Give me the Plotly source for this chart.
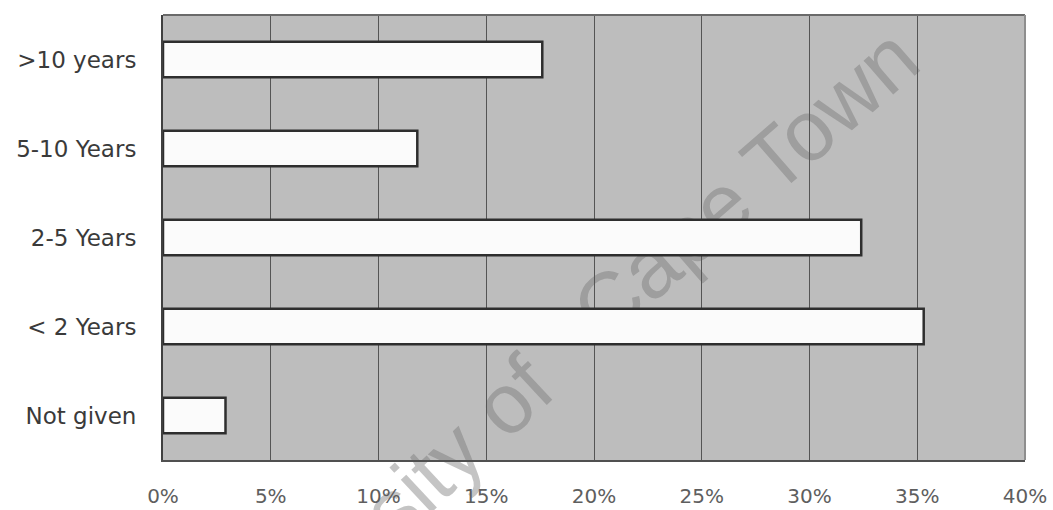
import plotly.graph_objects as go

# Length of service, share of respondents (%)
categories = [">10 years", "5-10 Years", "2-5 Years", "< 2 Years", "Not given"]
shares = [17.6, 11.8, 32.4, 35.3, 2.9]
tick_values = [0, 5, 10, 15, 20, 25, 30, 35, 40]
tick_labels = ["0%", "5%", "10%", "15%", "20%", "25%", "30%", "35%", "40%"]

W, H = 1053, 510
M_L, M_R, M_T, M_B = 163, 28, 15, 50
plot_w = W - M_L - M_R
plot_h = H - M_T - M_B


def to_paper(px, py):
    """Convert page pixels to paper coordinates."""
    return (px - M_L) / plot_w, (H - M_B - py) / plot_h


fig = go.Figure()
fig.add_trace(go.Bar(
    x=shares,
    y=categories,
    orientation="h",
    width=0.4,
    marker=dict(color="#fbfbfb", line=dict(color="#2e2e2e", width=2.5)),
    hoverinfo="x+y",
))

# Watermark, placed beneath the bars so that they hide it
watermark_font = dict(family="Liberation Sans", size=85, color="rgba(115,115,115,0.42)")
shapes = []
for text, (cx, cy), angle in [("University of", (362, 526), -43),
                              ("Cape Town", (740, 178), -41)]:
    px, py = to_paper(cx, cy)
    shapes.append(dict(
        type="line", xref="paper", yref="paper",
        x0=px, x1=px, y0=py, y1=py,
        line=dict(width=0, color="rgba(0,0,0,0)"),
        layer="below",
        label=dict(text=text, textangle=angle, textposition="middle",
                   xanchor="center", yanchor="middle", font=watermark_font,
                   padding=0),
    ))

# Lighter top and right frame edges
shapes.append(dict(type="line", xref="paper", yref="paper", x0=0, x1=1, y0=1, y1=1,
                   line=dict(color="#6a6a6a", width=2), layer="above"))
shapes.append(dict(type="line", xref="paper", yref="paper", x0=1, x1=1, y0=0, y1=1,
                   line=dict(color="#8e8e8e", width=2), layer="above"))

fig.update_layout(
    width=W,
    height=H,
    margin=dict(l=M_L, r=M_R, t=M_T, b=M_B, autoexpand=False),
    paper_bgcolor="white",
    plot_bgcolor="#bdbdbd",
    showlegend=False,
    font=dict(family="DejaVu Sans", color="#444"),
    shapes=shapes,
    xaxis=dict(
        range=[0, 40],
        tickvals=tick_values,
        ticktext=tick_labels,
        showgrid=True,
        gridcolor="#555555",
        gridwidth=1,
        zeroline=False,
        showline=True,
        linecolor="#505050",
        linewidth=2,
        ticks="",
        ticklabelstandoff=17,
        tickfont=dict(family="DejaVu Sans", size=20, color="#5e5e5e"),
        automargin=False,
        fixedrange=True,
    ),
    yaxis=dict(
        categoryorder="array",
        categoryarray=categories[::-1],
        showgrid=False,
        zeroline=False,
        showline=True,
        linecolor="#404040",
        linewidth=2,
        ticks="",
        ticklabelstandoff=20,
        tickfont=dict(family="DejaVu Sans", size=23, color="#3a3a3a"),
        automargin=False,
        fixedrange=True,
    ),
)

fig.write_html("out.html")
